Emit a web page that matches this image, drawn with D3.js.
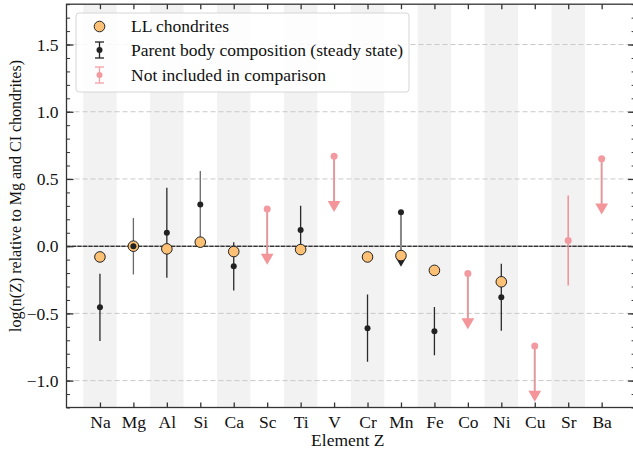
<!DOCTYPE html>
<html>
<head>
<meta charset="utf-8">
<script src="https://cdn.jsdelivr.net/npm/d3@7"></script>
<style>
  body { margin: 0; background: #fff; }
  svg { font-family: "Liberation Serif", "DejaVu Serif", serif; }
</style>
</head>
<body>
<main></main>
<script>
const elements = ["Na", "Mg", "Al", "Si", "Ca", "Sc", "Ti", "V", "Cr", "Mn", "Fe", "Co", "Ni", "Cu", "Sr", "Ba"];

// LL chondrites (null = no value)
const llValues = [-0.08, 0.0, -0.02, 0.03, -0.04, null, -0.025, null, -0.08, -0.07, -0.18, null, -0.265, null, null, null];

// parent body composition, steady state
const pbElements = ["Na", "Mg", "Al", "Si", "Ca", "Ti", "Cr", "Fe", "Ni"];
const pbValues   = [-0.455, 0.0, 0.10, 0.31, -0.15, 0.12, -0.61, -0.632, -0.38];
const pbErrors   = [0.25, 0.21, 0.335, 0.25, 0.18, 0.18, 0.25, 0.18, 0.25];

// upper limits (arrow down)
const pbLimitElements = ["Mn"];
const pbLimitValues   = [0.253];

// not included in comparison
const exElements = ["Sr"];
const exValues   = [0.042];
const exErrors   = [0.335];
const exLimitElements = ["Sc", "V", "Co", "Cu", "Ba"];
const exLimitValues   = [0.277, 0.669, -0.203, -0.743, 0.651];
const arrowLength = 0.36;

const yTicks = [-1.0, -0.5, 0.0, 0.5, 1.0, 1.5];

const w = 633, h = 453;
const pLeft = 66.5, pRight = 635.1, pTop = 4.2, pBottom = 407.5;
const fontSize = "17.5px";

const svg = d3.select("main").append("svg")
	.attr("width", w)
	.attr("height", h);

const xScale = d3.scaleLinear().domain([-1, 16]).range([pLeft, pRight]);
const yScale = d3.scaleLinear().domain([-1.2, 1.8]).range([pBottom, pTop]);
const xi = (name) => xScale(elements.indexOf(name));

svg.append("clipPath").attr("id", "clip")
	.append("rect").attr("x", pLeft).attr("y", pTop)
	.attr("width", pRight - pLeft).attr("height", pBottom - pTop);

const plot = svg.append("g").attr("clip-path", "url(#clip)");

// alternating bands
plot.selectAll("rect.band")
	.data(elements.filter((d, i) => i % 2 === 0))
	.enter()
	.append("rect")
	.attr("class", "band")
	.attr("x", (d) => xi(d) - (xScale(0.5) - xScale(0)))
	.attr("width", xScale(1) - xScale(0))
	.attr("y", pTop)
	.attr("height", pBottom - pTop)
	.attr("fill", "#f2f2f2");

// grid
plot.selectAll("line.grid")
	.data(yTicks.filter((d) => d !== 0))
	.enter()
	.append("line")
	.attr("x1", pLeft).attr("x2", pRight)
	.attr("y1", (d) => yScale(d)).attr("y2", (d) => yScale(d))
	.attr("stroke", "#c8c8c8")
	.attr("stroke-width", 1)
	.attr("stroke-dasharray", "5,3");

plot.append("line")
	.attr("x1", pLeft).attr("x2", pRight)
	.attr("y1", yScale(0)).attr("y2", yScale(0))
	.attr("stroke", "#777").attr("stroke-width", 1);
plot.append("line")
	.attr("x1", pLeft).attr("x2", pRight)
	.attr("y1", yScale(0)).attr("y2", yScale(0))
	.attr("stroke", "#111").attr("stroke-width", 1.1)
	.attr("stroke-dasharray", "4,1.5");

const red = "#f29aa0", redBar = "#e09a9c";
const tri = d3.symbol().type(d3.symbolTriangle).size(70);

// excluded: error bars
exElements.forEach((el, i) => {
	plot.append("line")
		.attr("x1", xi(el)).attr("x2", xi(el))
		.attr("y1", yScale(exValues[i] + exErrors[i]))
		.attr("y2", yScale(exValues[i] - exErrors[i]))
		.attr("stroke", "#f09098").attr("stroke-width", 1.5);
	plot.append("circle")
		.attr("cx", xi(el)).attr("cy", yScale(exValues[i]))
		.attr("r", 3.5).attr("fill", red);
});

// excluded: upper limits
exLimitElements.forEach((el, i) => {
	const v = exLimitValues[i];
	plot.append("line")
		.attr("x1", xi(el)).attr("x2", xi(el))
		.attr("y1", yScale(v)).attr("y2", yScale(v - arrowLength))
		.attr("stroke", redBar).attr("stroke-width", 2);
	plot.append("path")
		.attr("d", tri)
		.attr("transform", "translate(" + xi(el) + "," + yScale(v - arrowLength) + ") rotate(180)")
		.attr("fill", "#f49599");
	plot.append("circle")
		.attr("cx", xi(el)).attr("cy", yScale(v))
		.attr("r", 3.5).attr("fill", red);
});

// parent body: error bars
pbElements.forEach((el, i) => {
	plot.append("line")
		.attr("x1", xi(el)).attr("x2", xi(el))
		.attr("y1", yScale(pbValues[i] + pbErrors[i]))
		.attr("y2", yScale(pbValues[i] - pbErrors[i]))
		.attr("stroke", el === "Si" || el === "Mg" ? "#6a6a6a" : "#2a2a2a")
		.attr("stroke-width", 1.3);
});

// parent body: upper limits
pbLimitElements.forEach((el, i) => {
	const v = pbLimitValues[i];
	plot.append("line")
		.attr("x1", xi(el)).attr("x2", xi(el))
		.attr("y1", yScale(v)).attr("y2", yScale(v - arrowLength))
		.attr("stroke", "#888").attr("stroke-width", 2);
	plot.append("path")
		.attr("d", d3.symbol().type(d3.symbolTriangle).size(50))
		.attr("transform", "translate(" + xi(el) + "," + yScale(v - arrowLength) + ") rotate(180)")
		.attr("fill", "#222");
});

// LL chondrites
plot.selectAll("circle.ll")
	.data(elements.map((e, i) => ({e: e, v: llValues[i]})).filter((d) => d.v !== null))
	.enter()
	.append("circle")
	.attr("class", "ll")
	.attr("cx", (d) => xi(d.e))
	.attr("cy", (d) => yScale(d.v))
	.attr("r", 5.3)
	.attr("fill", "#fcc174")
	.attr("stroke", "#222")
	.attr("stroke-width", 1);

// parent body dots on top
pbElements.forEach((el, i) => {
	plot.append("circle")
		.attr("cx", xi(el)).attr("cy", yScale(pbValues[i]))
		.attr("r", 3).attr("fill", "#222");
});
pbLimitElements.forEach((el, i) => {
	plot.append("circle")
		.attr("cx", xi(el)).attr("cy", yScale(pbLimitValues[i]))
		.attr("r", 3).attr("fill", "#222");
});

// axes
const yMinor = d3.range(-12, 19).map((d) => d / 10);
const tickColor = "#333";

const yAxisL = d3.axisLeft(yScale).tickValues(yTicks).tickFormat((d) => d3.format(".1f")(d).replace("-", "\u2212")).tickSizeInner(-7).tickSizeOuter(0).tickPadding(8);
const gy = svg.append("g").attr("transform", "translate(" + pLeft + ",0)").call(yAxisL);
gy.select(".domain").remove();
gy.selectAll("line").attr("stroke", tickColor).attr("stroke-width", 1.3);
gy.selectAll("text").style("font-size", fontSize).style("font-family", "Liberation Serif").attr("fill", "#111");

const gyMinor = svg.append("g").attr("transform", "translate(" + pLeft + ",0)")
	.call(d3.axisLeft(yScale).tickValues(yMinor).tickSizeInner(-3.5).tickSizeOuter(0).tickFormat(""));
gyMinor.select(".domain").remove();
gyMinor.selectAll("line").attr("stroke", tickColor);

const gyR = svg.append("g").attr("transform", "translate(" + pRight + ",0)")
	.call(d3.axisRight(yScale).tickValues(yTicks).tickSizeInner(-7).tickSizeOuter(0).tickFormat(""));
gyR.select(".domain").remove();
gyR.selectAll("line").attr("stroke", tickColor).attr("stroke-width", 1.3);
const gyRMinor = svg.append("g").attr("transform", "translate(" + pRight + ",0)")
	.call(d3.axisRight(yScale).tickValues(yMinor).tickSizeInner(-3.5).tickSizeOuter(0).tickFormat(""));
gyRMinor.select(".domain").remove();
gyRMinor.selectAll("line").attr("stroke", tickColor);

const xAxisB = d3.axisBottom(xScale).tickValues(d3.range(elements.length)).tickFormat((d) => elements[d]).tickSizeInner(-5).tickSizeOuter(0).tickPadding(8);
const gx = svg.append("g").attr("transform", "translate(0," + pBottom + ")").call(xAxisB);
gx.select(".domain").remove();
gx.selectAll("line").attr("stroke", tickColor).attr("stroke-width", 1.3);
gx.selectAll("text").style("font-size", fontSize).style("font-family", "Liberation Serif").attr("fill", "#111");

const gxT = svg.append("g").attr("transform", "translate(0," + pTop + ")")
	.call(d3.axisTop(xScale).tickValues(d3.range(elements.length)).tickSizeInner(-5).tickSizeOuter(0).tickFormat(""));
gxT.select(".domain").remove();
gxT.selectAll("line").attr("stroke", tickColor).attr("stroke-width", 1.3);

// frame
svg.append("rect")
	.attr("x", pLeft).attr("y", pTop)
	.attr("width", pRight - pLeft).attr("height", pBottom - pTop)
	.attr("fill", "none")
	.attr("stroke", "#333")
	.attr("stroke-width", 1.3);

// axis labels
svg.append("text")
	.attr("x", (pLeft + pRight) / 2 - 3)
	.attr("y", 446)
	.attr("text-anchor", "middle")
	.style("font-size", fontSize)
	.attr("fill", "#111")
	.text("Element Z");

svg.append("text")
	.attr("transform", "rotate(-90)")
	.attr("x", -196)
	.attr("y", 21)
	.attr("text-anchor", "middle")
	.style("font-size", "16px")
	.attr("fill", "#111")
	.text("log(n(Z) relative to Mg and CI chondrites)");

// legend
const legend = svg.append("g");
legend.append("rect")
	.attr("x", 76).attr("y", 13)
	.attr("width", 333).attr("height", 79)
	.attr("rx", 3)
	.attr("fill", "#fff").attr("fill-opacity", 0.85)
	.attr("stroke", "#d6d6d6");

const lx = 99.5;
legend.append("circle").attr("cx", lx).attr("cy", 26.5).attr("r", 5.3)
	.attr("fill", "#fcc174").attr("stroke", "#222");

[{y: 50, c: "#222", dot: "#222"}, {y: 75, c: "#f5a0a6", dot: red}].forEach((d) => {
	legend.append("line").attr("x1", lx).attr("x2", lx).attr("y1", d.y - 8).attr("y2", d.y + 8)
		.attr("stroke", d.c).attr("stroke-width", 1.3);
	legend.append("line").attr("x1", lx - 4.5).attr("x2", lx + 4.5).attr("y1", d.y - 8).attr("y2", d.y - 8)
		.attr("stroke", d.c).attr("stroke-width", 1.3);
	legend.append("line").attr("x1", lx - 4.5).attr("x2", lx + 4.5).attr("y1", d.y + 8).attr("y2", d.y + 8)
		.attr("stroke", d.c).attr("stroke-width", 1.3);
	legend.append("circle").attr("cx", lx).attr("cy", d.y).attr("r", 3).attr("fill", d.dot);
});

const legendLabels = ["LL chondrites", "Parent body composition (steady state)", "Not included in comparison"];
legend.selectAll("text.lab")
	.data(legendLabels)
	.enter()
	.append("text")
	.attr("x", 131)
	.attr("y", (d, i) => [32, 56, 81][i])
	.style("font-size", fontSize)
	.attr("fill", "#111")
	.text((d) => d);
</script>
</body>
</html>
